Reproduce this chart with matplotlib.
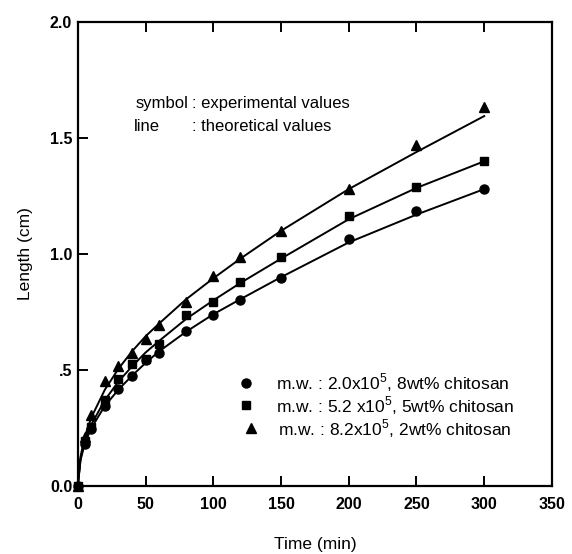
import matplotlib
matplotlib.use("Agg")
import matplotlib.pyplot as plt

# ---- data ----
time_exp = [0, 5, 10, 20, 30, 40, 50, 60, 80, 100, 120, 150, 200, 250, 300]
len_c = [0, 0.18, 0.246, 0.343, 0.416, 0.474, 0.542, 0.573, 0.670, 0.736, 0.800, 0.897, 1.064, 1.185, 1.28]
len_s = [0, 0.195, 0.256, 0.372, 0.459, 0.524, 0.549, 0.611, 0.735, 0.794, 0.881, 0.986, 1.166, 1.29, 1.40]
len_t = [0, 0.21, 0.306, 0.451, 0.516, 0.575, 0.633, 0.693, 0.794, 0.904, 0.985, 1.10, 1.281, 1.47, 1.635]

time_th = [0, 2, 5, 10, 20, 30, 40, 50, 60, 80, 100, 120, 150, 200, 250, 300]
th_c = [0, 0.11, 0.18, 0.25, 0.345, 0.415, 0.475, 0.53, 0.58, 0.665, 0.74, 0.805, 0.90, 1.05, 1.17, 1.28]
th_s = [0, 0.115, 0.19, 0.265, 0.37, 0.45, 0.515, 0.575, 0.625, 0.72, 0.80, 0.875, 0.98, 1.15, 1.285, 1.40]
th_t = [0, 0.125, 0.21, 0.295, 0.415, 0.505, 0.58, 0.645, 0.70, 0.805, 0.895, 0.98, 1.10, 1.28, 1.44, 1.595]

labels = ["m.w. : 2.0x10$^5$, 8wt% chitosan",
          "m.w. : 5.2 x10$^5$, 5wt% chitosan",
          "m.w. : 8.2x10$^5$, 2wt% chitosan"]

x_ticks = [0, 50, 100, 150, 200, 250, 300, 350]
y_ticks = [0.0, 0.5, 1.0, 1.5, 2.0]
y_ticklabels = ["0.0", ".5", "1.0", "1.5", "2.0"]

plt.rcParams['font.family'] = ['Liberation Sans', 'DejaVu Sans']
plt.rcParams['mathtext.fontset'] = 'custom'
plt.rcParams['mathtext.rm'] = 'Liberation Sans'

fig = plt.figure(figsize=(5.72, 5.54), dpi=100)
ax = fig.add_axes([0.136, 0.123, 0.829, 0.837])

for th in (th_c, th_s, th_t):
    ax.plot(time_th, th, color='black', lw=1.4, zorder=2)

ax.plot(time_exp, len_c, 'o', color='black', ms=6.5, ls='none', zorder=3, clip_on=False)
ax.plot(time_exp, len_s, 's', color='black', ms=5.8, ls='none', zorder=3, clip_on=False)
ax.plot(time_exp, len_t, '^', color='black', ms=6.8, ls='none', zorder=3, clip_on=False)

ax.set_xlim(0, 350)
ax.set_ylim(0, 2.0)
ax.set_xticks(x_ticks)
ax.set_yticks(y_ticks)
ax.set_yticklabels(y_ticklabels)
ax.tick_params(axis='x', direction='in', length=7, width=1.4, top=True, labelsize=11.5, pad=8)
ax.tick_params(axis='y', direction='in', length=7, width=1.4, right=False, labelsize=11.5, pad=4)
for lab in ax.get_xticklabels() + ax.get_yticklabels():
    lab.set_fontweight('bold')
for sp in ax.spines.values():
    sp.set_linewidth(1.6)

ax.set_xlabel("Time (min)", fontsize=12.5, labelpad=18)
ax.set_ylabel("Length (cm)", fontsize=12.5, labelpad=12)

# annotation text
ax.text(42.5, 1.65, "symbol", fontsize=12, va='center', ha='left')
ax.text(84.5, 1.65, ": experimental values", fontsize=12, va='center', ha='left')
ax.text(41.5, 1.55, "line", fontsize=12, va='center', ha='left')
ax.text(84.5, 1.55, ": theoretical values", fontsize=12, va='center', ha='left')

# manual legend
leg_marker = ['o', 's', '^']
leg_ms = [6.5, 5.8, 6.8]
leg_y = [0.445, 0.347, 0.248]
leg_mx = [124.5, 124.5, 127.5]
leg_tx = [146, 146, 148]
for m, ms, yv, mx, tx, lab in zip(leg_marker, leg_ms, leg_y, leg_mx, leg_tx, labels):
    ax.plot([mx], [yv], m, color='black', ms=ms)
    ax.text(tx, yv, lab, fontsize=12.5, va='center', ha='left')

fig.savefig("out.png", dpi=100)
